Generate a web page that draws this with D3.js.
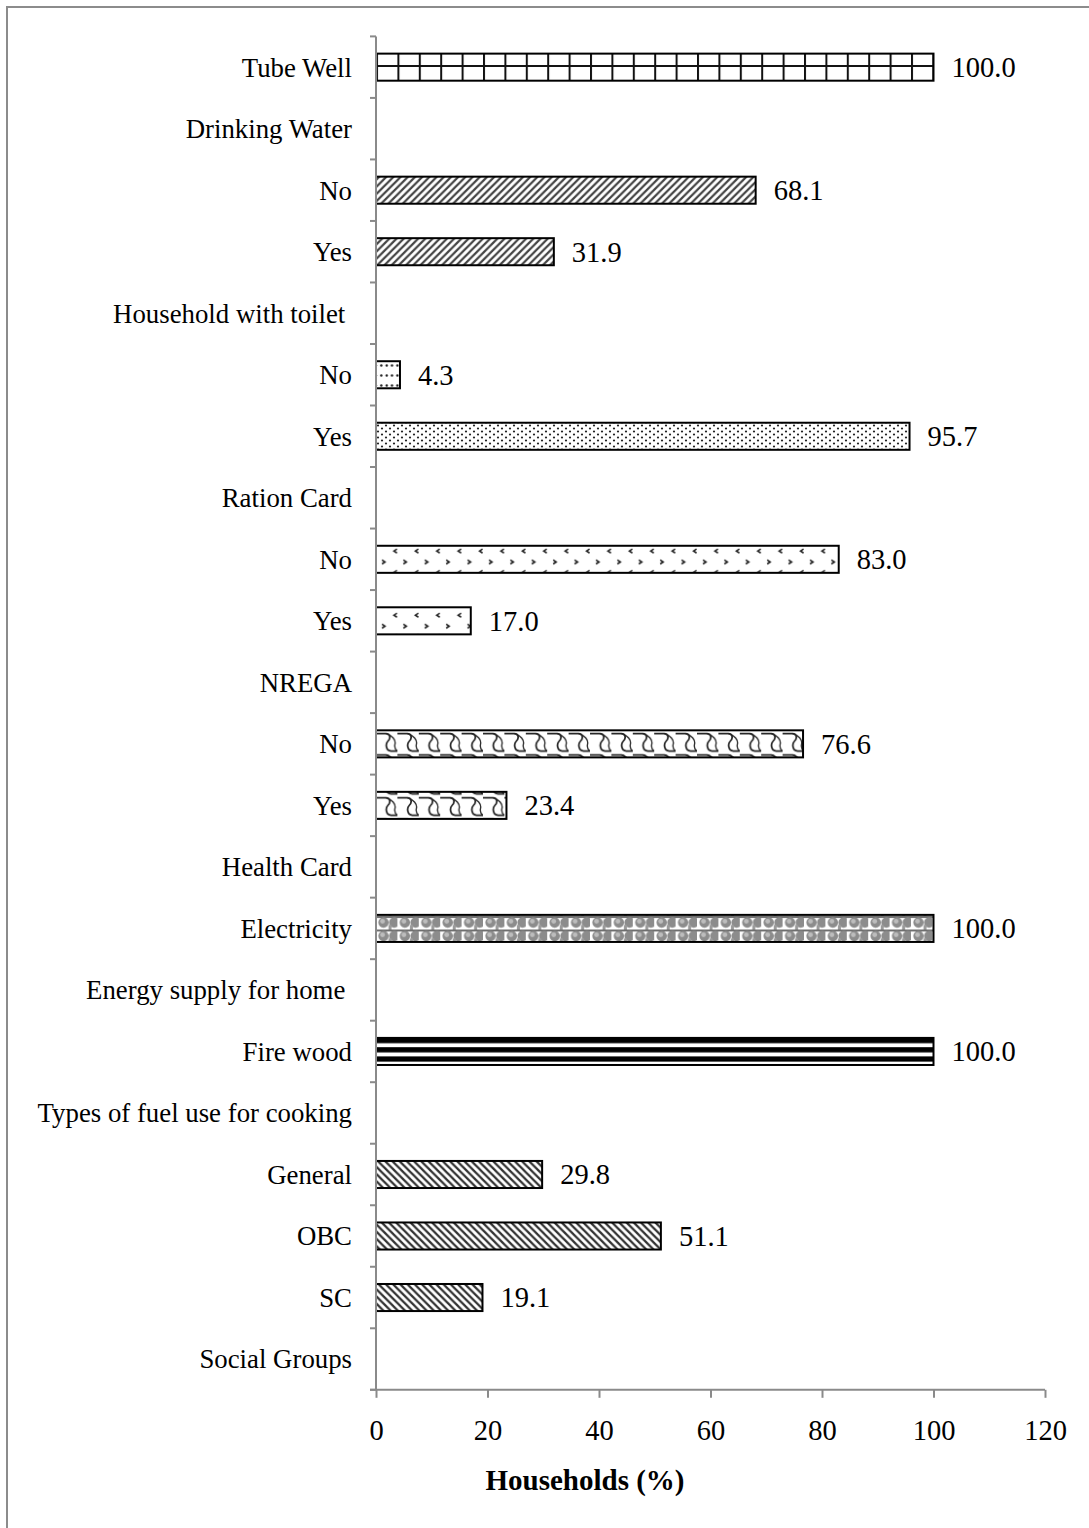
<!DOCTYPE html>
<html>
<head>
<meta charset="utf-8">
<script src="https://cdn.jsdelivr.net/npm/d3@7"></script>
<style>
  html, body { margin: 0; padding: 0; background: #fff; }
  svg { display: block; }
  text { font-family: "Liberation Serif", "Times New Roman", serif; fill: #000; }
</style>
</head>
<body>
<svg id="chart" width="1089" height="1528"></svg>
<script>
// Categories listed from top to bottom; group headers carry no value.
const categories = [
  "Tube Well", "Drinking Water", "No", "Yes", "Household with toilet ",
  "No", "Yes", "Ration Card", "No", "Yes", "NREGA", "No", "Yes",
  "Health Card", "Electricity", "Energy supply for home ", "Fire wood",
  "Types of fuel use for cooking", "General", "OBC", "SC", "Social Groups"
];
const values = [
  100.0, null, 68.1, 31.9, null,
  4.3, 95.7, null, 83.0, 17.0, null, 76.6, 23.4,
  null, 100.0, null, 100.0,
  null, 29.8, 51.1, 19.1, null
];
const fills = [
  "grid", null, "upDiag", "upDiag", null,
  "dotsSparse", "dots", null, "divot", "divot", null, "shingle", "shingle",
  null, "sphere", null, "hStripe",
  null, "downDiag", "downDiag", "downDiag", null
];
const xTicks = [0, 20, 40, 60, 80, 100, 120];
const xTitle = "Households (%)";

const svg = d3.select("#chart");
const plot = { left: 376, right: 1045, top: 36.4, bottom: 1389.8 };

// Outer frame (only the top and left edges fall inside the page)
svg.append("rect")
  .attr("x", 7).attr("y", 7).attr("width", 1200).attr("height", 1600)
  .attr("fill", "none").attr("stroke", "#8c8c8c").attr("stroke-width", 2);

const x = d3.scaleLinear().domain([0, 120]).range([plot.left, plot.right]);
const idx = categories.map((_, i) => i);
const y = d3.scaleBand().domain(idx).range([plot.top, plot.bottom]).paddingInner(0.56).paddingOuter(0.28);

// Hatch patterns for the bars
const defs = svg.append("defs");
const T = 21.4;

function pat(id, w, h) {
  return defs.append("pattern").attr("id", id)
    .attr("patternUnits", "userSpaceOnUse")
    .attr("x", plot.left).attr("y", 0)
    .attr("width", w).attr("height", h);
}

// large grid
{
  const p = pat("grid", T, T).attr("y", 66 - T / 2);
  p.append("rect").attr("width", T).attr("height", T).attr("fill", "#fff");
  p.append("line").attr("x1", 0).attr("x2", T).attr("y1", T / 2).attr("y2", T / 2).attr("stroke", "#111").attr("stroke-width", 2);
  p.append("line").attr("x1", 1).attr("x2", 1).attr("y1", 0).attr("y2", T).attr("stroke", "#111").attr("stroke-width", 2);
}
// wide upward diagonal
{
  const s = 7.2;
  const p = pat("upDiag", s, s);
  p.append("rect").attr("width", s).attr("height", s).attr("fill", "#fff");
  p.append("path").attr("d", `M${-s},${s} L${s},${-s} M0,${2 * s} L${2 * s},0 M${-s},${2*s} L${s},0 M0,${s} L${s},0`)
    .attr("stroke", "#444").attr("stroke-width", 2.2);
}
// wide downward diagonal
{
  const s = 7.2;
  const p = pat("downDiag", s, s);
  p.append("rect").attr("width", s).attr("height", s).attr("fill", "#fff");
  p.append("path").attr("d", `M0,0 L${s},${s} M${-s},0 L${s},${2 * s} M0,${-s} L${2 * s},${s}`)
    .attr("stroke", "#333").attr("stroke-width", 2.3);
}
// dotted
{
  const p = pat("dots", 8, 6).attr("y", 424);
  p.append("rect").attr("width", 8).attr("height", 6).attr("fill", "#fff");
  p.append("circle").attr("cx", 2).attr("cy", 1.5).attr("r", 1.1).attr("fill", "#222");
  p.append("circle").attr("cx", 6).attr("cy", 4.5).attr("r", 1.1).attr("fill", "#222");
}
{
  const p = pat("dotsSparse", 10.7, 10).attr("y", 4);
  p.append("rect").attr("width", 10.7).attr("height", 10).attr("fill", "#fff");
  p.append("circle").attr("cx", 5.3).attr("cy", 1.5).attr("r", 1.2).attr("fill", "#222");
  p.append("circle").attr("cx", 10.7).attr("cy", 1.5).attr("r", 1.2).attr("fill", "#222");
  p.append("circle").attr("cx", 0).attr("cy", 1.5).attr("r", 1.2).attr("fill", "#222");
}
// divot
{
  const p = pat("divot", T, T).attr("y", 545);
  p.append("rect").attr("width", T).attr("height", T).attr("fill", "#fff");
  p.append("path").attr("d", "M21,4 L18,6 L21,8").attr("fill", "none").attr("stroke", "#222").attr("stroke-width", 1.6);
  p.append("path").attr("d", "M6,15 L9,17 L6,19").attr("fill", "none").attr("stroke", "#222").attr("stroke-width", 1.6);
}
// shingle
{
  const p = pat("shingle", T, T).attr("y", 732);
  p.append("rect").attr("width", T).attr("height", T).attr("fill", "#fff");
  p.append("path").attr("d", "M0,1.5 L10,1.5 C14,1.5 15,6 12,9 C9,12 10,19 15,19 L22,19")
    .attr("fill", "none").attr("stroke", "#222").attr("stroke-width", 1.7);
  p.append("path").attr("d", "M10,1.5 C16,3 20,8 19,12 C18,16 20,18 21.4,19")
    .attr("fill", "none").attr("stroke", "#222").attr("stroke-width", 1.3);
}
// sphere
{
  const p = pat("sphere", T, 13.5).attr("y", 916);
  p.append("rect").attr("width", T).attr("height", 13.5).attr("fill", "#fff");
  p.append("rect").attr("width", T).attr("height", 2).attr("fill", "#6e6e6e");
  p.append("circle").attr("cx", 7.5).attr("cy", 6.5).attr("r", 5.2).attr("fill", "#8c8c8c");
  p.append("circle").attr("cx", 6.5).attr("cy", 5.2).attr("r", 2.4).attr("fill", "#bdbdbd");
  p.append("circle").attr("cx", 18.2).attr("cy", 6.5).attr("r", 5.2).attr("fill", "#8c8c8c");
  p.append("rect").attr("x", 12.5).attr("y", 9).attr("width", 3).attr("height", 4.5).attr("fill", "#9a9a9a");
}
// dark horizontal stripes
{
  const p = pat("hStripe", 10, 9.2).attr("y", 1038);
  p.append("rect").attr("width", 10).attr("height", 9.2).attr("fill", "#fff");
  p.append("rect").attr("y", 0).attr("width", 10).attr("height", 5.2).attr("fill", "#000");
}

// Bars
const data = idx.filter(i => values[i] != null);
svg.append("g").selectAll("rect").data(data).join("rect")
  .attr("x", x(0))
  .attr("y", i => y(i))
  .attr("width", i => x(values[i]) - x(0))
  .attr("height", y.bandwidth())
  .attr("fill", i => `url(#${fills[i]})`)
  .attr("stroke", "#000").attr("stroke-width", 2);

// Value labels
svg.append("g").selectAll("text").data(data).join("text")
  .attr("x", i => x(values[i]) + 18)
  .attr("y", i => y(i) + y.bandwidth() / 2)
  .attr("dy", "0.35em")
  .style("font-size", "28.5px")
  .text(i => values[i].toFixed(1));

// Axes
const axisColor = "#8a8a8a";
const yAxis = svg.append("g").attr("transform", `translate(${plot.left},0)`);
yAxis.append("line").attr("x1", 0).attr("x2", 0).attr("y1", plot.top).attr("y2", plot.bottom)
  .attr("stroke", axisColor).attr("stroke-width", 2);
const step = y.step();
const bounds = d3.range(categories.length + 1).map(k => plot.top + k * step);
yAxis.selectAll("line.tick").data(bounds).join("line").attr("class", "tick")
  .attr("x1", -6).attr("x2", 0).attr("y1", d => d).attr("y2", d => d)
  .attr("stroke", axisColor).attr("stroke-width", 2);
yAxis.selectAll("text").data(idx).join("text")
  .attr("x", -24)
  .attr("y", i => y(i) + y.bandwidth() / 2)
  .attr("dy", "0.35em")
  .attr("text-anchor", "end")
  .style("font-size", "26.8px")
  .style("white-space", "pre")
  .text(i => categories[i]);

const xAxis = svg.append("g").attr("transform", `translate(0,${plot.bottom})`)
  .call(d3.axisBottom(x).tickValues(xTicks).tickSize(8).tickPadding(22).tickFormat(d3.format("d")));
xAxis.select(".domain").attr("stroke", axisColor).attr("stroke-width", 2)
  .attr("d", `M${plot.left - 6},0H${plot.right}`);
xAxis.selectAll(".tick line").attr("stroke", axisColor).attr("stroke-width", 2);
xAxis.selectAll(".tick text")
  .style("font-family", "'Liberation Serif', 'Times New Roman', serif")
  .style("font-size", "28.5px").attr("fill", "#000");

svg.append("text")
  .attr("x", 585).attr("y", 1480).attr("dy", "0.35em")
  .attr("text-anchor", "middle")
  .style("font-size", "29px").style("font-weight", "bold")
  .text(xTitle);
</script>
</body>
</html>
